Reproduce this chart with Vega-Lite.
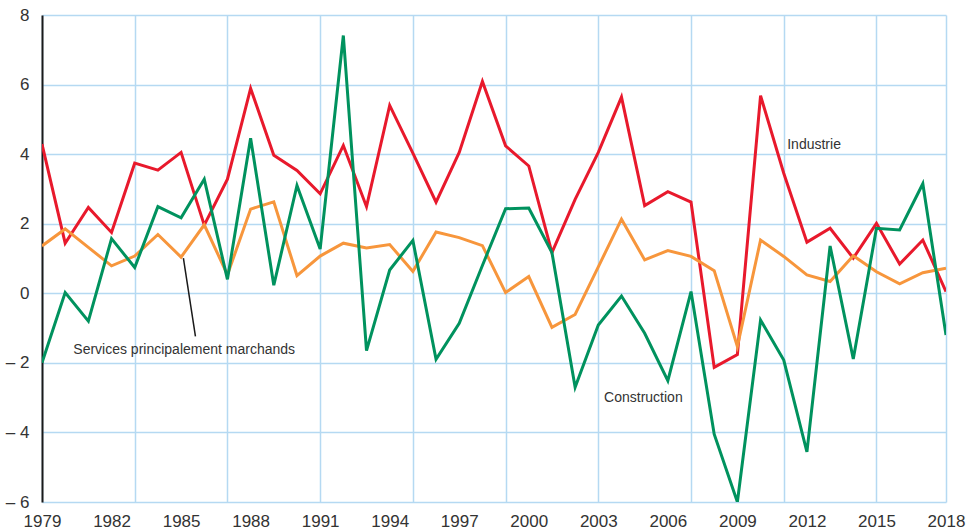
{
  "$schema": "https://vega.github.io/schema/vega-lite/v6.json",
  "width": 904,
  "height": 487,
  "autosize": {"type": "none"},
  "padding": {"left": 42, "top": 15, "right": 25, "bottom": 30},
  "background": "white",
  "config": {
    "view": {"stroke": null},
    "font": "Liberation Sans",
    "axis": {"labelFont": "Liberation Sans", "labelColor": "#333333"}
  },
  "datasets": {
    "series": [
      {"year": 1979, "series": "Industrie", "value": 4.29},
      {"year": 1980, "series": "Industrie", "value": 1.44},
      {"year": 1981, "series": "Industrie", "value": 2.47},
      {"year": 1982, "series": "Industrie", "value": 1.75},
      {"year": 1983, "series": "Industrie", "value": 3.74},
      {"year": 1984, "series": "Industrie", "value": 3.54},
      {"year": 1985, "series": "Industrie", "value": 4.05},
      {"year": 1986, "series": "Industrie", "value": 1.96},
      {"year": 1987, "series": "Industrie", "value": 3.28},
      {"year": 1988, "series": "Industrie", "value": 5.89},
      {"year": 1989, "series": "Industrie", "value": 3.97},
      {"year": 1990, "series": "Industrie", "value": 3.53},
      {"year": 1991, "series": "Industrie", "value": 2.86},
      {"year": 1992, "series": "Industrie", "value": 4.25},
      {"year": 1993, "series": "Industrie", "value": 2.49},
      {"year": 1994, "series": "Industrie", "value": 5.40},
      {"year": 1995, "series": "Industrie", "value": 4.03},
      {"year": 1996, "series": "Industrie", "value": 2.62},
      {"year": 1997, "series": "Industrie", "value": 4.05},
      {"year": 1998, "series": "Industrie", "value": 6.09},
      {"year": 1999, "series": "Industrie", "value": 4.24},
      {"year": 2000, "series": "Industrie", "value": 3.66},
      {"year": 2001, "series": "Industrie", "value": 1.17},
      {"year": 2002, "series": "Industrie", "value": 2.70},
      {"year": 2003, "series": "Industrie", "value": 4.05},
      {"year": 2004, "series": "Industrie", "value": 5.64},
      {"year": 2005, "series": "Industrie", "value": 2.52},
      {"year": 2006, "series": "Industrie", "value": 2.92},
      {"year": 2007, "series": "Industrie", "value": 2.62},
      {"year": 2008, "series": "Industrie", "value": -2.13},
      {"year": 2009, "series": "Industrie", "value": -1.76},
      {"year": 2010, "series": "Industrie", "value": 5.68},
      {"year": 2011, "series": "Industrie", "value": 3.45},
      {"year": 2012, "series": "Industrie", "value": 1.47},
      {"year": 2013, "series": "Industrie", "value": 1.87},
      {"year": 2014, "series": "Industrie", "value": 1.01},
      {"year": 2015, "series": "Industrie", "value": 2.01},
      {"year": 2016, "series": "Industrie", "value": 0.84},
      {"year": 2017, "series": "Industrie", "value": 1.53},
      {"year": 2018, "series": "Industrie", "value": 0.05},
      {"year": 1979, "series": "Services", "value": 1.36},
      {"year": 1980, "series": "Services", "value": 1.85},
      {"year": 1981, "series": "Services", "value": 1.32},
      {"year": 1982, "series": "Services", "value": 0.79},
      {"year": 1983, "series": "Services", "value": 1.07},
      {"year": 1984, "series": "Services", "value": 1.69},
      {"year": 1985, "series": "Services", "value": 1.04},
      {"year": 1986, "series": "Services", "value": 1.97},
      {"year": 1987, "series": "Services", "value": 0.53},
      {"year": 1988, "series": "Services", "value": 2.42},
      {"year": 1989, "series": "Services", "value": 2.63},
      {"year": 1990, "series": "Services", "value": 0.51},
      {"year": 1991, "series": "Services", "value": 1.07},
      {"year": 1992, "series": "Services", "value": 1.44},
      {"year": 1993, "series": "Services", "value": 1.30},
      {"year": 1994, "series": "Services", "value": 1.40},
      {"year": 1995, "series": "Services", "value": 0.63},
      {"year": 1996, "series": "Services", "value": 1.76},
      {"year": 1997, "series": "Services", "value": 1.60},
      {"year": 1998, "series": "Services", "value": 1.37},
      {"year": 1999, "series": "Services", "value": 0.02},
      {"year": 2000, "series": "Services", "value": 0.48},
      {"year": 2001, "series": "Services", "value": -0.98},
      {"year": 2002, "series": "Services", "value": -0.61},
      {"year": 2003, "series": "Services", "value": 0.76},
      {"year": 2004, "series": "Services", "value": 2.13},
      {"year": 2005, "series": "Services", "value": 0.96},
      {"year": 2006, "series": "Services", "value": 1.23},
      {"year": 2007, "series": "Services", "value": 1.06},
      {"year": 2008, "series": "Services", "value": 0.65},
      {"year": 2009, "series": "Services", "value": -1.53},
      {"year": 2010, "series": "Services", "value": 1.53},
      {"year": 2011, "series": "Services", "value": 1.06},
      {"year": 2012, "series": "Services", "value": 0.53},
      {"year": 2013, "series": "Services", "value": 0.34},
      {"year": 2014, "series": "Services", "value": 1.08},
      {"year": 2015, "series": "Services", "value": 0.62},
      {"year": 2016, "series": "Services", "value": 0.27},
      {"year": 2017, "series": "Services", "value": 0.59},
      {"year": 2018, "series": "Services", "value": 0.72},
      {"year": 1979, "series": "Construction", "value": -2.0},
      {"year": 1980, "series": "Construction", "value": 0.02},
      {"year": 1981, "series": "Construction", "value": -0.80},
      {"year": 1982, "series": "Construction", "value": 1.57},
      {"year": 1983, "series": "Construction", "value": 0.74},
      {"year": 1984, "series": "Construction", "value": 2.49},
      {"year": 1985, "series": "Construction", "value": 2.17},
      {"year": 1986, "series": "Construction", "value": 3.28},
      {"year": 1987, "series": "Construction", "value": 0.40},
      {"year": 1988, "series": "Construction", "value": 4.46},
      {"year": 1989, "series": "Construction", "value": 0.23},
      {"year": 1990, "series": "Construction", "value": 3.10},
      {"year": 1991, "series": "Construction", "value": 1.27},
      {"year": 1992, "series": "Construction", "value": 7.41},
      {"year": 1993, "series": "Construction", "value": -1.65},
      {"year": 1994, "series": "Construction", "value": 0.67},
      {"year": 1995, "series": "Construction", "value": 1.52},
      {"year": 1996, "series": "Construction", "value": -1.90},
      {"year": 1997, "series": "Construction", "value": -0.86},
      {"year": 1998, "series": "Construction", "value": 0.80},
      {"year": 1999, "series": "Construction", "value": 2.43},
      {"year": 2000, "series": "Construction", "value": 2.45},
      {"year": 2001, "series": "Construction", "value": 1.17},
      {"year": 2002, "series": "Construction", "value": -2.70},
      {"year": 2003, "series": "Construction", "value": -0.91},
      {"year": 2004, "series": "Construction", "value": -0.08},
      {"year": 2005, "series": "Construction", "value": -1.15},
      {"year": 2006, "series": "Construction", "value": -2.51},
      {"year": 2007, "series": "Construction", "value": 0.05},
      {"year": 2008, "series": "Construction", "value": -4.05},
      {"year": 2009, "series": "Construction", "value": -6.0},
      {"year": 2010, "series": "Construction", "value": -0.77},
      {"year": 2011, "series": "Construction", "value": -1.92},
      {"year": 2012, "series": "Construction", "value": -4.56},
      {"year": 2013, "series": "Construction", "value": 1.36},
      {"year": 2014, "series": "Construction", "value": -1.89},
      {"year": 2015, "series": "Construction", "value": 1.87},
      {"year": 2016, "series": "Construction", "value": 1.82},
      {"year": 2017, "series": "Construction", "value": 3.15},
      {"year": 2018, "series": "Construction", "value": -1.20}
    ],
    "labels": [
      {"year": 2011.15, "value": 4.26, "label": "Industrie"},
      {"year": 1980.35, "value": -1.63, "label": "Services principalement marchands"},
      {"year": 2003.25, "value": -3.0, "label": "Construction"}
    ],
    "leader": [
      {"year": 1985.1, "value": 1.01, "year2": 1985.62, "value2": -1.24}
    ]
  },
  "layer": [
    {
      "data": {"name": "series"},
      "mark": {"type": "line", "strokeWidth": 3, "strokeJoin": "miter", "clip": true},
      "encoding": {
        "x": {
          "field": "year", "type": "quantitative",
          "scale": {"domain": [1979, 2018], "nice": false, "zero": false},
          "axis": {
            "orient": "top", "values": [1979, 1983, 1987, 1991, 1995, 1999, 2003, 2007, 2011, 2015, 2018],
            "grid": true, "gridColor": "#b5d9f2", "gridWidth": 1.5, "labels": false, "ticks": false, "domain": false, "title": null
          }
        },
        "y": {
          "field": "value", "type": "quantitative",
          "scale": {"domain": [-6, 8], "nice": false, "zero": false},
          "axis": {
            "values": [-6, -4, -2, 0, 2, 4, 6, 8],
            "grid": true, "gridColor": "#b5d9f2", "gridWidth": 1.5,
            "ticks": false, "domain": true, "domainColor": "#1a1a1a", "domainWidth": 2,
            "labelFontSize": 17, "labelPadding": 13, "title": null, "labelFlush": false,
            "labelExpr": "datum.value < 0 ? '\u2013 ' + abs(datum.value) : '' + datum.value"
          }
        },
        "color": {
          "field": "series", "type": "nominal",
          "scale": {"domain": ["Industrie", "Services", "Construction"], "range": ["#e8192c", "#f7963c", "#00925e"]},
          "legend": null
        },
        "order": {"field": "year"}
      }
    },
    {
      "mark": {"type": "rule", "color": "#1a1a1a", "strokeWidth": 2},
      "encoding": {"y": {"datum": 0, "type": "quantitative"}}
    },
    {
      "data": {"name": "leader"},
      "mark": {"type": "rule", "color": "#1a1a1a", "strokeWidth": 1.5},
      "encoding": {
        "x": {"field": "year", "type": "quantitative", "axis": null},
        "y": {"field": "value", "type": "quantitative", "title": null},
        "x2": {"field": "year2"},
        "y2": {"field": "value2"}
      }
    },
    {
      "data": {"name": "labels"},
      "mark": {"type": "text", "align": "left", "baseline": "middle", "fontSize": 14, "color": "#333333", "font": "Liberation Sans"},
      "encoding": {
        "x": {
          "field": "year", "type": "quantitative",
          "axis": {
            "orient": "bottom", "values": [1979, 1982, 1985, 1988, 1991, 1994, 1997, 2000, 2003, 2006, 2009, 2012, 2015, 2018],
            "format": "d", "grid": false, "ticks": false, "domain": false, "labelFontSize": 17, "labelPadding": 19, "title": null,
            "labelOverlap": false, "labelFlush": false, "labelBaseline": "middle"
          }
        },
        "y": {"field": "value", "type": "quantitative", "title": null},
        "text": {"field": "label"}
      }
    }
  ],
  "resolve": {"axis": {"x": "independent"}}
}
